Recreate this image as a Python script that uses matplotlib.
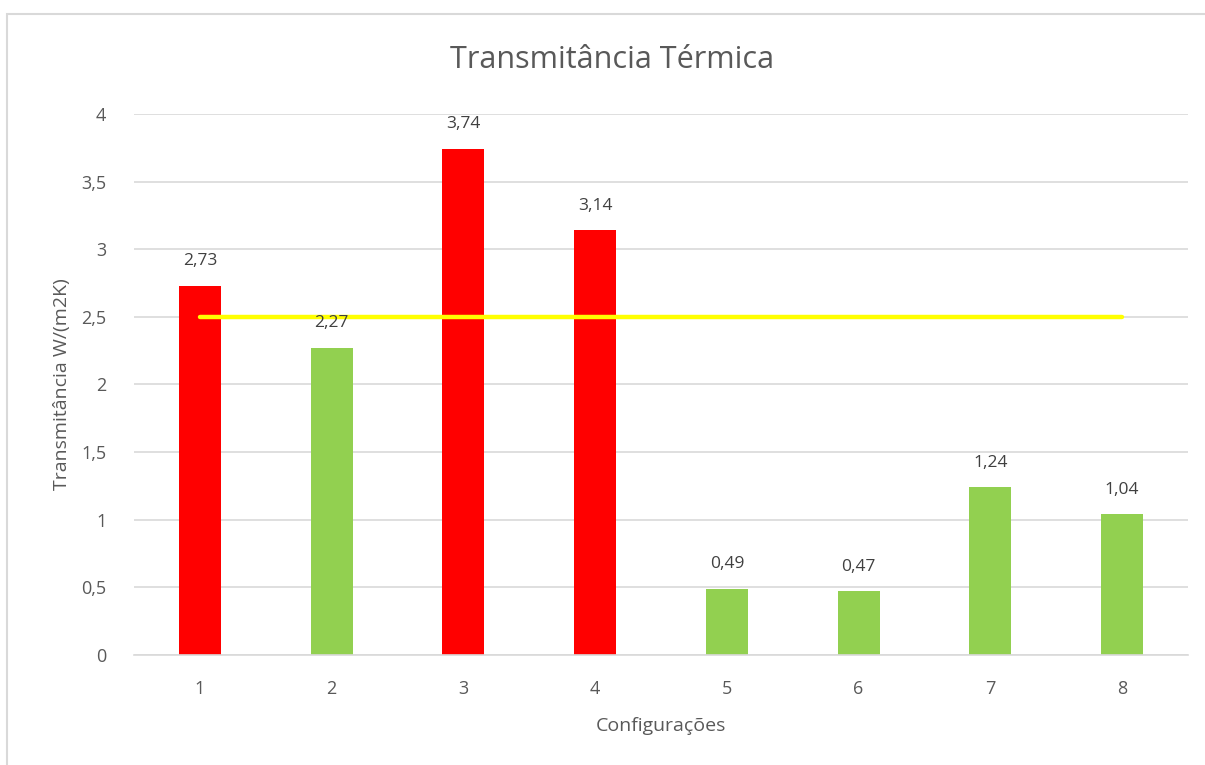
import matplotlib.pyplot as plt
from matplotlib.patches import Rectangle

configs = ["1", "2", "3", "4", "5", "6", "7", "8"]
values = [2.73, 2.27, 3.74, 3.14, 0.49, 0.47, 1.24, 1.04]
bar_colors = ["#FF0000", "#92D050", "#FF0000", "#FF0000",
              "#92D050", "#92D050", "#92D050", "#92D050"]
limit = [2.5] * 8

TXT = "#595959"
GRID = "#D9D9D9"

plt.rcParams["font.family"] = ["Open Sans", "DejaVu Sans"]

fig = plt.figure(figsize=(12.05, 7.65), dpi=100, facecolor="white")
fig.patches.append(Rectangle((7 / 1205, -0.1), 1.2, 1 - 14 / 765 + 0.1,
                             transform=fig.transFigure, fill=False,
                             edgecolor=GRID, linewidth=1.5))

ax = fig.add_axes([134 / 1205, 1 - 655 / 765, (1188 - 134) / 1205, (655 - 114) / 765])
x = list(range(len(configs)))
ax.bar(x, values, width=0.32, color=bar_colors, zorder=2)
ax.plot(x, limit, color="#FFFF00", linewidth=3.2, solid_capstyle="round", zorder=3)

for xi, v in zip(x, values):
    ax.annotate(f"{v:.2f}".replace(".", ","), (xi, v), xytext=(0, 12),
                textcoords="offset points", ha="center", va="bottom",
                fontsize=12.5, color="#404040")

ax.set_xlim(-0.5, len(configs) - 0.5)
ax.set_ylim(0, 4)
ax.set_yticks([0, 0.5, 1, 1.5, 2, 2.5, 3, 3.5, 4])
ax.set_yticklabels(["0", "0,5", "1", "1,5", "2", "2,5", "3", "3,5", "4"])
ax.set_xticks(x)
ax.set_xticklabels(configs)
ax.tick_params(length=0, colors=TXT, labelsize=13, pad=20)
ax.tick_params(axis="x", pad=18)
ax.grid(axis="y", color=GRID, linewidth=1.2, zorder=0)
for s in ["top", "right", "left"]:
    ax.spines[s].set_visible(False)
ax.spines["bottom"].set_color(GRID)
ax.spines["bottom"].set_linewidth(1.2)

ax.set_xlabel("Configurações", fontsize=14, color=TXT, labelpad=14)
ax.set_ylabel("Transmitância W/(m2K)", fontsize=14, color=TXT, labelpad=7)
fig.text(612 / 1205, 1 - 60 / 765, "Transmitância Térmica", fontsize=22,
         color=TXT, ha="center", va="center")

fig.savefig("out.png", dpi=100, facecolor="white")
